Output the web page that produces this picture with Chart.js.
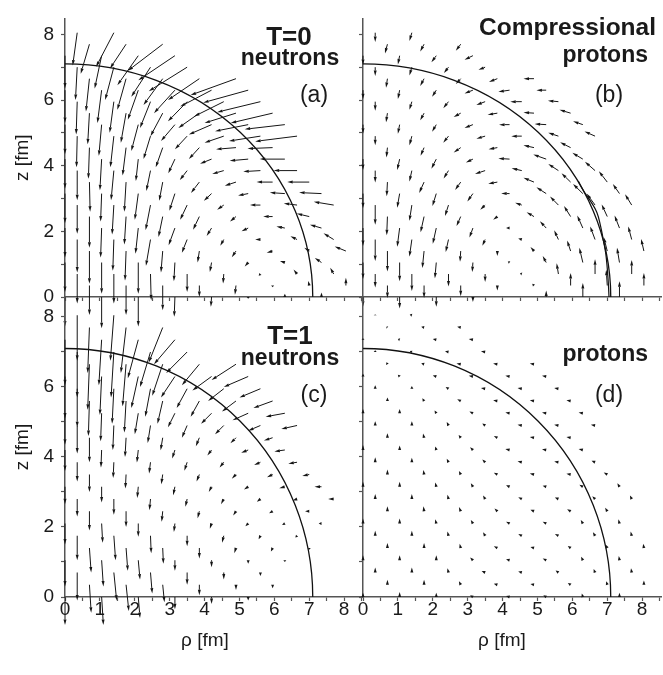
<!DOCTYPE html>
<html>
<head>
<meta charset="utf-8">
<script src="https://cdn.jsdelivr.net/npm/chart.js@4.4.1/dist/chart.umd.min.js"></script>
<style>
  body { margin: 0; background: #fff; }
  #wrap { position: relative; width: 663px; height: 675px; overflow: hidden; }
  #wrap canvas { position: absolute; left: 0; top: 0; }
</style>
</head>
<body>
<div id="wrap">
  <canvas id="ca" width="663" height="675"></canvas>
  <canvas id="cb" width="663" height="675"></canvas>
  <canvas id="cc" width="663" height="675"></canvas>
  <canvas id="cd" width="663" height="675"></canvas>
</div>
<script>
// velocity fields on the (rho, z) mesh, spacing 0.35 fm, every third node
// each row starts at z = 0 and goes up one mesh step; pairs are (d_rho, d_z) in fm
var meshStep = 0.35;
var surfaceR = 7.1;
var rhoTicks = [0, 1, 2, 3, 4, 5, 6, 7, 8];
var zTicks = [0, 2, 4, 6, 8];

// second contour seen in the compressional proton panel
var innerRho = [6.17, 6.31, 6.52, 6.70, 6.81, 6.89, 6.96, 7.0, 7.03, 7.05];
var innerZ   = [3.53, 3.25, 2.92, 2.58, 2.15, 1.72, 1.3, 0.87, 0.43, 0];

var fieldA = [
  [0,-0.9, 0,-0.95, 0,-0.9, -0.02,-0.6, -0.02,-0.3, 0,-0.05, 0,0.1, 0,0.14],
  [0,-0.9, 0,-0.9, 0,-0.75, 0,-0.35, -0.03,-0.28, 0,-0.05, -0.03,0.14, 0,0.24],
  [0,-0.9, 0,-0.9, 0.02,-0.8, 0,-0.55, -0.02,-0.29, -0.05,-0.05, -0.1,0.14, -0.1,0.19],
  [0,-0.9, 0,-0.95, 0,-0.95, -0.03,-0.57, -0.05,-0.29, -0.1,-0.12, -0.14,0.05, -0.19,0.14],
  [0,-1.0, -0.03,-0.9, -0.05,-0.65, -0.05,-0.35, -0.12,-0.19, -0.17,-0.05, -0.14,0.1, -0.32,0.14],
  [0,-1.0, -0.03,-0.95, -0.13,-0.8, -0.15,-0.4, -0.1,-0.19, -0.15,0, -0.19,0.1, -0.29,0.19],
  [0,-0.9, -0.03,-0.9, -0.08,-0.78, -0.18,-0.52, -0.14,-0.24, -0.19,-0.1, -0.24,0.05, -0.33,0.1],
  [0,-0.95, -0.05,-0.85, -0.12,-0.62, -0.18,-0.4, -0.17,-0.15, -0.27,0, -0.36,0.09],
  [0,-0.87, -0.05,-0.9, -0.14,-0.76, -0.2,-0.45, -0.19,-0.14, -0.3,0, -0.38,0.05, -0.57,0.1],
  [0,-0.9, -0.03,-0.85, -0.1,-0.8, -0.16,-0.52, -0.22,-0.22, -0.29,-0.06, -0.43,0.03, -0.64,0.03],
  [0.02,-0.9, -0.05,-0.9, -0.1,-0.57, -0.24,-0.33, -0.32,-0.11, -0.46,0, -0.63,0],
  [0,-0.9, -0.08,-0.9, -0.12,-0.62, -0.21,-0.29, -0.33,-0.1, -0.49,-0.03, -0.67,0],
  [0,-0.9, -0.05,-0.95, -0.07,-0.67, -0.19,-0.43, -0.33,-0.14, -0.53,-0.05, -0.72,0],
  [-0.03,-0.95, -0.1,-0.85, -0.2,-0.6, -0.3,-0.35, -0.57,-0.05, -0.72,-0.03],
  [-0.02,-0.95, -0.1,-0.95, -0.2,-0.7, -0.35,-0.4, -0.55,-0.2, -0.9,-0.15, -1.2,-0.16],
  [0,-0.9, -0.08,-0.95, -0.2,-0.8, -0.4,-0.5, -0.65,-0.3, -0.95,-0.2, -1.15,-0.14],
  [-0.05,-0.95, -0.15,-0.9, -0.35,-0.7, -0.6,-0.45, -0.9,-0.3, -1.2,-0.3],
  [-0.03,-1.0, -0.12,-0.95, -0.3,-0.8, -0.55,-0.6, -0.85,-0.45, -1.24,-0.32],
  [0,-1.0, -0.12,-1.0, -0.3,-0.9, -0.6,-0.7, -0.9,-0.5, -1.29,-0.38],
  [-0.1,-1.0, -0.25,-0.95, -0.55,-0.8, -0.9,-0.65, -1.3,-0.5],
  [-0.05,-1.0, -0.25,-1.0, -0.55,-0.9, -1.1,-0.73],
  [0,-1.0, -0.2,-1.0, -0.6,-0.9, -1.05,-0.75],
  [-0.25,-0.9, -0.46,-0.74, -1.0,-0.81],
  [-0.13,-1.0, -0.51,-1.04]
];

var fieldB = [
  [0,-0.3, 0,-0.35, 0,-0.3, 0,-0.15, 0,0, 0,0.2, 0,0.43, 0,0.48],
  [0,-0.38, 0,-0.38, 0,-0.33, 0,-0.15, -0.05,0.05, 0,0.38, -0.03,0.48, 0,0.38],
  [0,-0.41, 0,-0.52, 0,-0.38, 0,-0.24, -0.05,0.02, -0.05,0.33, 0,0.45, 0,0.43],
  [0,-0.5, 0,-0.57, -0.04,-0.48, -0.02,-0.29, -0.05,0.03, -0.1,0.2, -0.1,0.45, -0.07,0.45],
  [0,-0.62, -0.05,-0.52, -0.02,-0.33, 0,-0.15, -0.1,0.12, -0.1,0.32, -0.1,0.42, -0.08,0.37],
  [0,-0.65, -0.07,-0.52, -0.08,-0.38, -0.08,-0.19, -0.1,0.03, -0.12,0.28, -0.14,0.4, -0.1,0.4],
  [0,-0.55, -0.07,-0.57, -0.1,-0.48, -0.1,-0.29, -0.1,0, -0.18,0.21, -0.16,0.38, -0.14,0.38],
  [-0.02,-0.57, -0.1,-0.48, -0.12,-0.29, -0.12,-0.1, -0.21,0.13, -0.19,0.32, -0.16,0.37],
  [0,-0.6, -0.07,-0.48, -0.1,-0.33, -0.14,-0.14, -0.19,0.07, -0.24,0.26, -0.24,0.35, -0.19,0.33],
  [0,-0.45, -0.07,-0.43, -0.11,-0.38, -0.16,-0.24, -0.24,0, -0.28,0.19, -0.28,0.29, -0.19,0.29],
  [-0.02,-0.43, -0.14,-0.33, -0.16,-0.24, -0.26,-0.05, -0.3,0.13, -0.26,0.27, -0.24,0.33],
  [0,-0.36, -0.07,-0.33, -0.14,-0.24, -0.29,-0.1, -0.29,0.07, -0.29,0.2, -0.29,0.27],
  [0,-0.33, -0.07,-0.33, -0.14,-0.29, -0.2,-0.1, -0.32,0.02, -0.37,0.14, -0.3,0.19],
  [-0.03,-0.3, -0.1,-0.25, -0.2,-0.15, -0.25,-0.05, -0.3,0.07, -0.3,0.16],
  [0,-0.28, -0.07,-0.28, -0.15,-0.2, -0.25,-0.08, -0.3,0, -0.29,0.1, -0.3,0.14],
  [0,-0.28, -0.05,-0.28, -0.12,-0.22, -0.24,-0.1, -0.3,0, -0.33,0.02, -0.28,0.1],
  [-0.04,-0.28, -0.11,-0.22, -0.2,-0.12, -0.28,-0.05, -0.3,0.02, -0.32,0.1],
  [0,-0.28, -0.07,-0.25, -0.15,-0.2, -0.25,-0.1, -0.33,0, -0.3,0.03],
  [0,-0.28, -0.05,-0.27, -0.12,-0.2, -0.24,-0.1, -0.32,-0.05, -0.28,0],
  [-0.04,-0.28, -0.11,-0.22, -0.14,-0.16, -0.24,-0.1, -0.3,0],
  [0,-0.27, -0.07,-0.25, -0.13,-0.18, -0.19,-0.08],
  [0,-0.28, -0.05,-0.27, -0.14,-0.2, -0.24,-0.12],
  [-0.07,-0.28, -0.11,-0.22, -0.14,-0.2],
  [0,-0.28, -0.07,-0.25]
];

var fieldC = [
  [0,-0.8, 0.05,-0.8, 0.05,-0.6, 0,-0.35, 0,-0.2, 0,-0.1, 0,0, 0,0],
  [0.05,-0.8, 0.08,-0.75, 0.05,-0.5, 0,-0.3, 0,-0.15, 0,-0.1, 0,0, 0,0],
  [0,-0.8, 0.08,-0.8, 0.05,-0.6, 0,-0.35, 0,-0.2, 0,-0.1, 0,0, 0,0],
  [0,-0.75, 0.05,-0.75, 0.05,-0.55, 0,-0.3, 0,-0.2, 0,-0.1, 0,-0.05, 0,0],
  [0.05,-0.7, 0.05,-0.65, 0.02,-0.45, 0,-0.3, -0.05,-0.15, -0.05,-0.1, 0,-0.05, 0,0],
  [0,-0.7, 0.05,-0.7, 0.02,-0.5, 0,-0.3, -0.05,-0.2, -0.05,-0.1, -0.05,-0.05, 0,0],
  [0,-0.6, 0.03,-0.55, 0,-0.38, -0.03,-0.24, -0.05,-0.15, -0.08,-0.08, -0.08,-0.04, -0.08,0],
  [0,-0.55, 0,-0.45, -0.03,-0.3, -0.05,-0.2, -0.08,-0.12, -0.1,-0.06, -0.12,0],
  [0,-0.5, 0,-0.45, -0.03,-0.32, -0.05,-0.22, -0.08,-0.15, -0.1,-0.08, -0.12,-0.04, -0.16,0],
  [0,-0.5, 0,-0.45, -0.03,-0.32, -0.05,-0.24, -0.08,-0.15, -0.12,-0.08, -0.16,-0.04, -0.2,0],
  [0,-0.5, -0.02,-0.4, -0.04,-0.28, -0.08,-0.2, -0.12,-0.12, -0.16,-0.08, -0.2,-0.04],
  [0,-0.55, -0.02,-0.45, -0.04,-0.32, -0.08,-0.24, -0.12,-0.15, -0.18,-0.08, -0.25,-0.04],
  [0,-0.6, -0.02,-0.5, -0.04,-0.36, -0.08,-0.24, -0.12,-0.16, -0.2,-0.08, -0.3,-0.04],
  [0,-0.7, -0.03,-0.55, -0.06,-0.36, -0.1,-0.24, -0.16,-0.16, -0.25,-0.08],
  [0,-0.8, -0.03,-0.7, -0.08,-0.5, -0.15,-0.35, -0.25,-0.25, -0.35,-0.15, -0.45,-0.1],
  [0,-0.9, -0.03,-0.8, -0.1,-0.6, -0.2,-0.4, -0.3,-0.3, -0.45,-0.2, -0.55,-0.1],
  [-0.03,-1.0, -0.05,-0.9, -0.15,-0.65, -0.25,-0.45, -0.4,-0.3, -0.55,-0.2],
  [0,-1.1, -0.05,-1.0, -0.15,-0.8, -0.3,-0.55, -0.45,-0.35, -0.6,-0.25],
  [0,-1.2, -0.05,-1.1, -0.2,-0.9, -0.4,-0.6, -0.55,-0.4, -0.7,-0.3],
  [-0.05,-1.3, -0.1,-1.2, -0.3,-0.9, -0.5,-0.6, -0.7,-0.45],
  [0,-1.3, -0.08,-1.3, -0.3,-1.0, -0.6,-0.6],
  [0,-1.3, -0.08,-1.3, -0.3,-1.1, -0.6,-0.7],
  [-0.05,-1.3, -0.15,-1.3, -0.4,-1.0],
  [0,-1.3, -0.1,-1.3]
];

var fieldD = [
  [0,0.12, 0,0.14, 0,0.12, -0.08,0.05, -0.1,0.03, -0.08,0.05, -0.03,0.1, 0,0.12],
  [0,0.14, 0,0.14, -0.05,0.1, -0.1,0.03, -0.1,0.02, -0.08,0.05, -0.03,0.1, 0,0.12],
  [0,0.14, 0,0.14, -0.03,0.12, -0.1,0.04, -0.1,0.03, -0.08,0.06, -0.04,0.1, -0.02,0.12],
  [0,0.14, 0,0.14, 0,0.14, -0.08,0.08, -0.1,0.03, -0.1,0.05, -0.05,0.1, -0.02,0.12],
  [0,0.14, 0,0.14, -0.03,0.12, -0.1,0.05, -0.1,0.03, -0.08,0.06, -0.05,0.1, -0.02,0.12],
  [0,0.14, 0,0.14, -0.03,0.12, -0.06,0.1, -0.1,0.05, -0.1,0.05, -0.06,0.1, -0.03,0.12],
  [0,0.14, 0,0.14, -0.03,0.12, -0.06,0.1, -0.1,0.05, -0.1,0.05, -0.06,0.1, -0.03,0.12],
  [0,0.14, -0.02,0.14, -0.05,0.12, -0.08,0.08, -0.1,0.04, -0.1,0.06, -0.06,0.1],
  [0,0.14, 0,0.14, -0.03,0.12, -0.06,0.1, -0.1,0.05, -0.1,0.04, -0.08,0.08, -0.05,0.1],
  [0,0.14, 0,0.14, -0.03,0.12, -0.06,0.1, -0.1,0.04, -0.1,0.03, -0.1,0.06, -0.06,0.1],
  [0,0.14, -0.02,0.13, -0.05,0.1, -0.1,0.05, -0.12,0.03, -0.12,0.02, -0.1,0.06],
  [0,0.14, 0,0.13, -0.05,0.1, -0.08,0.08, -0.12,0.03, -0.12,0.02, -0.1,0.04],
  [0,0.14, 0,0.13, -0.03,0.1, -0.08,0.08, -0.12,0.03, -0.12,0.02, -0.12,0.03],
  [0,0.13, -0.03,0.12, -0.06,0.08, -0.1,0.05, -0.12,0.02, -0.12,0.02],
  [0,0.12, 0,0.12, -0.05,0.1, -0.08,0.06, -0.12,0.02, -0.12,0.02, -0.12,0.02],
  [0,0.12, 0,0.12, -0.05,0.08, -0.1,0.05, -0.12,0.02, -0.12,0.02, -0.12,0.02],
  [0,0.1, -0.05,0.08, -0.1,0.05, -0.12,0.02, -0.12,0.02, -0.12,0.02],
  [0,0.1, 0,0.08, -0.08,0.05, -0.12,0.02, -0.12,0.02, -0.12,0.02],
  [0,0.08, -0.05,0.05, -0.1,0.03, -0.12,0.02, -0.12,0.02, -0.12,0.02],
  [-0.03,0.06, -0.08,0.03, -0.12,0.02, -0.12,0.02, -0.12,0.02],
  [0,0.05, -0.06,0.03, -0.1,0.02, -0.12,0.02],
  [0,0.04, -0.05,0.02, -0.1,0.02, -0.12,0.02],
  [-0.03,0.02, -0.08,0.02, -0.1,0.02],
  [0,0.02, -0.06,0.02]
];

// node positions follow the mesh: row j sits at z = j*h, its first node
// at the smallest rho index with (i + j) divisible by 3
function meshNodes(rows) {
  var pts = [];
  rows.forEach(function (row, j) {
    var i0 = (3 - j % 3) % 3;
    for (var k = 0; k < row.length / 2; k++) {
      var i = i0 + 3 * k;
      pts.push({x: i * meshStep, y: j * meshStep, u: row[2 * k], v: row[2 * k + 1]});
    }
  });
  return pts;
}

var FONT = '"Liberation Sans", Arial, Helvetica, sans-serif';

// arrows and the surface arc, drawn through the chart's own scales
var arrowPlugin = {
  id: 'arrows',
  afterDatasetsDraw: function (chart) {
    var ctx = chart.ctx, xs = chart.scales.x, ys = chart.scales.y;
    var x0 = xs.getPixelForValue(0), y0 = ys.getPixelForValue(0);
    ctx.save();
    // surface
    ctx.beginPath();
    ctx.ellipse(x0, y0, xs.getPixelForValue(surfaceR) - x0, y0 - ys.getPixelForValue(surfaceR),
      0, -Math.PI / 2, 0);
    ctx.strokeStyle = '#111';
    ctx.lineWidth = 1.3;
    ctx.stroke();

    ctx.strokeStyle = '#151515';
    ctx.fillStyle = '#151515';
    ctx.lineWidth = 1;
    chart.data.datasets[0].data.forEach(function (p) {
      if (p.u === 0 && p.v === 0) return;
      var ax = xs.getPixelForValue(p.x), ay = ys.getPixelForValue(p.y);
      var bx = xs.getPixelForValue(p.x + p.u), by = ys.getPixelForValue(p.y + p.v);
      var dx = bx - ax, dy = by - ay, len = Math.sqrt(dx * dx + dy * dy);
      if (len < 0.5) return;
      var ux = dx / len, uy = dy / len;
      var hl = Math.min(5.5, len), hw = 1.5;
      var cx = bx - ux * hl, cy = by - uy * hl;
      ctx.beginPath();
      ctx.moveTo(ax, ay);
      ctx.lineTo(cx, cy);
      ctx.stroke();
      ctx.beginPath();
      ctx.moveTo(bx, by);
      ctx.lineTo(cx - uy * hw, cy + ux * hw);
      ctx.lineTo(cx + uy * hw, cy - ux * hw);
      ctx.closePath();
      ctx.fill();
    });
    ctx.restore();
  }
};

// panel captions and the rho axis titles
var captionPlugin = {
  id: 'captions',
  afterDraw: function (chart) {
    var lines = chart.options.plugins.captions.lines;
    var ctx = chart.ctx;
    ctx.save();
    ctx.fillStyle = '#1a1a1a';
    ctx.textBaseline = 'alphabetic';
    lines.forEach(function (l) {
      ctx.font = (l.bold ? 'bold ' : '') + l.size + 'px ' + FONT;
      ctx.textAlign = l.align;
      ctx.fillText(l.text, l.x, l.y);
    });
    ctx.restore();
  }
};

function makePanel(id, rows, opt) {
  var axisColor = '#555';
  var datasets = [{data: meshNodes(rows), pointRadius: 0, pointHoverRadius: 0}];
  if (opt.inner) {
    datasets.push({
      data: innerRho.map(function (r, k) { return {x: r, y: innerZ[k]}; }),
      showLine: true, borderColor: '#111', borderWidth: 1.2, pointRadius: 0,
      tension: 0.4, fill: false
    });
  }
  return new Chart(document.getElementById(id), {
    type: 'scatter',
    data: {datasets: datasets},
    plugins: [arrowPlugin, captionPlugin],
    options: {
      responsive: false,
      animation: false,
      events: [],
      layout: {padding: opt.padding},
      plugins: {
        legend: {display: false},
        tooltip: {enabled: false},
        captions: {lines: opt.captions}
      },
      scales: {
        x: {
          type: 'linear', min: 0, max: 8.54,
          border: {display: true, color: axisColor, width: 1.5},
          grid: {display: true, drawOnChartArea: false, drawTicks: true, tickLength: 4,
                 tickColor: axisColor, tickWidth: 1.2},
          ticks: {
            stepSize: 0.5, autoSkip: false, includeBounds: false, maxRotation: 0, padding: -3,
            color: '#1a1a1a', font: {family: FONT, size: 19},
            callback: function (v) {
              return opt.xLabels && rhoTicks.indexOf(v) >= 0 ? String(v) : '';
            }
          },
          afterFit: function (s) { s.height = opt.xHeight; }
        },
        y: {
          type: 'linear', min: 0, max: opt.zMax,
          border: {display: true, color: axisColor, width: 1.5},
          grid: {display: true, drawOnChartArea: false, drawTicks: true, tickLength: 4,
                 tickColor: axisColor, tickWidth: 1.2},
          ticks: {
            stepSize: 1, autoSkip: false, includeBounds: false, padding: 7,
            color: '#1a1a1a', font: {family: FONT, size: 19},
            callback: function (v) {
              return opt.yLabels && zTicks.indexOf(v) >= 0 ? String(v) : '';
            }
          },
          title: {display: opt.yLabels, text: 'z [fm]', color: '#1a1a1a',
                  font: {family: FONT, size: 19}, padding: {top: 4, bottom: 2}},
          afterFit: function (s) { s.width = opt.yWidth; }
        }
      }
    }
  });
}

// top row: plot area y 0..297, bottom row 297..597
// left column: x 65..363, right column 363..661
makePanel('ca', fieldA, {
  padding: {left: 7, right: 300, top: 0, bottom: 368},
  yWidth: 58, xHeight: 10, zMax: 8.486, xLabels: false, yLabels: true,
  captions: [
    {text: 'T=0', x: 289, y: 45, size: 26, bold: true, align: 'center'},
    {text: 'neutrons', x: 290, y: 65, size: 23, bold: true, align: 'center'},
    {text: '(a)', x: 314, y: 102, size: 23, bold: false, align: 'center'}
  ]
});
makePanel('cb', fieldB, {
  padding: {left: 358, right: 2, top: 0, bottom: 368},
  yWidth: 5, xHeight: 10, zMax: 8.486, xLabels: false, yLabels: false, inner: true,
  captions: [
    {text: 'Compressional', x: 656, y: 35, size: 24.5, bold: true, align: 'right'},
    {text: 'protons', x: 648, y: 62, size: 23, bold: true, align: 'right'},
    {text: '(b)', x: 609, y: 102, size: 23, bold: false, align: 'center'}
  ]
});
makePanel('cc', fieldC, {
  padding: {left: 7, right: 300, top: 297, bottom: 18},
  yWidth: 58, xHeight: 60, zMax: 8.571, xLabels: true, yLabels: true,
  captions: [
    {text: 'T=1', x: 290, y: 344, size: 26, bold: true, align: 'center'},
    {text: 'neutrons', x: 290, y: 365, size: 23, bold: true, align: 'center'},
    {text: '(c)', x: 314, y: 402, size: 23, bold: false, align: 'center'},
    {text: 'ρ [fm]', x: 205, y: 646, size: 19, bold: false, align: 'center'}
  ]
});
makePanel('cd', fieldD, {
  padding: {left: 358, right: 2, top: 297, bottom: 18},
  yWidth: 5, xHeight: 60, zMax: 8.571, xLabels: true, yLabels: false,
  captions: [
    {text: 'protons', x: 648, y: 361, size: 23, bold: true, align: 'right'},
    {text: '(d)', x: 609, y: 402, size: 23, bold: false, align: 'center'},
    {text: 'ρ [fm]', x: 502, y: 646, size: 19, bold: false, align: 'center'}
  ]
});
</script>
</body>
</html>
